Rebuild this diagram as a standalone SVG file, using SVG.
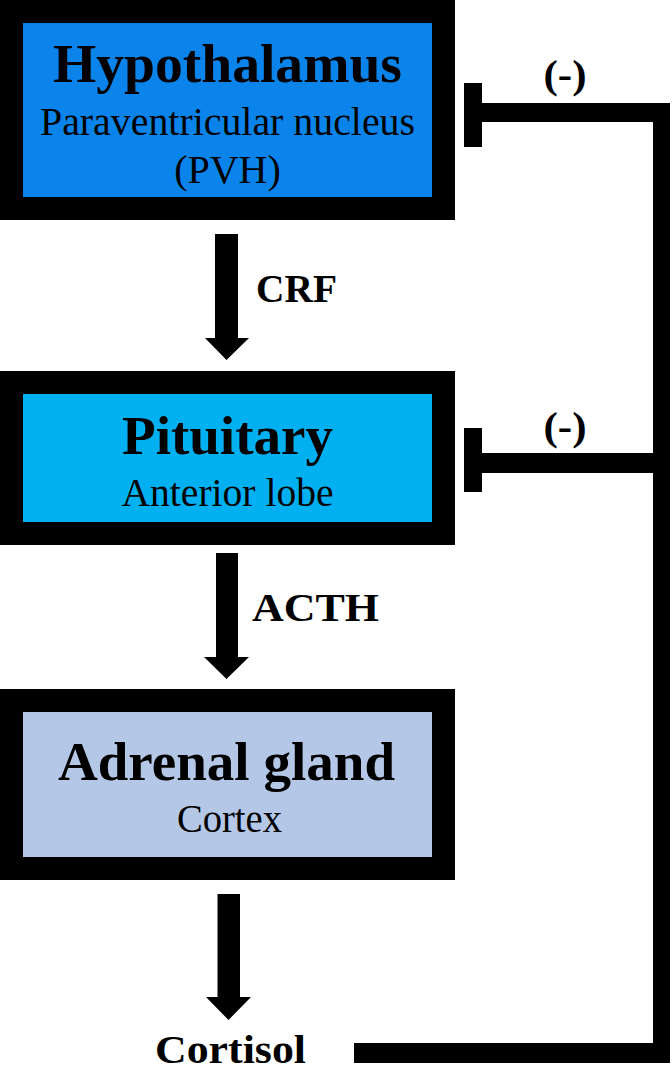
<svg xmlns="http://www.w3.org/2000/svg" width="672" height="1071" viewBox="0 0 672 1071">
<style>
.box{stroke:#000;stroke-width:23}
.h{font-family:"Liberation Serif","Times New Roman",serif;font-weight:bold;font-size:55px;text-anchor:middle;fill:#000}
.s{font-family:"Liberation Serif","Times New Roman",serif;font-size:40px;text-anchor:middle;fill:#000}
.l{font-family:"Liberation Serif","Times New Roman",serif;font-weight:bold;font-size:41px;fill:#000}
.c{fill:#000}
</style>
<rect width="672" height="1071" fill="#fff"/>
<g id="hypothalamus">
<rect class="box" x="11.5" y="11.5" width="432" height="197" fill="#0A84EA"/>
<text class="h" x="227.5" y="82" textLength="349" lengthAdjust="spacingAndGlyphs">Hypothalamus</text>
<text class="s" x="227.5" y="135" textLength="375" lengthAdjust="spacingAndGlyphs">Paraventricular nucleus</text>
<text class="s" x="227.5" y="183">(PVH)</text>
</g>
<g id="pituitary">
<rect class="box" x="11.5" y="382.5" width="432" height="151" fill="#00B0F0"/>
<text class="h" x="227.5" y="454" textLength="211" lengthAdjust="spacingAndGlyphs">Pituitary</text>
<text class="s" x="227.5" y="506" textLength="212" lengthAdjust="spacingAndGlyphs">Anterior lobe</text>
</g>
<g id="adrenal">
<rect class="box" x="11.5" y="700.5" width="432" height="168" fill="#B4C7E7"/>
<text class="h" x="226.5" y="780" textLength="337" lengthAdjust="spacingAndGlyphs">Adrenal gland</text>
<text class="s" x="229.5" y="832" textLength="105" lengthAdjust="spacingAndGlyphs">Cortex</text>
</g>
<g id="cortisol">
<text class="l" x="155" y="1063" font-size="42" textLength="151" lengthAdjust="spacingAndGlyphs">Cortisol</text>
</g>
<g id="connectors">
<polygon class="c" points="215,234 238,234 238,338 249,338 226.5,360 205,338 215,338"/>
<text class="l" x="256" y="302" textLength="81" lengthAdjust="spacingAndGlyphs">CRF</text>
<polygon class="c" points="216,553 238,553 238,657 249,657 226.5,679 204,657 216,657"/>
<text class="l" x="252" y="621" textLength="127" lengthAdjust="spacingAndGlyphs">ACTH</text>
<polygon class="c" points="217.5,894 240,894 240,997 251,997 228.5,1020 206,997 217.5,997"/>
<polygon class="c" points="354,1043 653,1043 653,122 482,122 482,147 464,147 464,83 482,83 482,103 670,103 670,1063 354,1063"/>
<rect class="c" x="464" y="428" width="18" height="64"/>
<rect class="c" x="482" y="453" width="171" height="20"/>
<text class="l" x="565" y="88" text-anchor="middle" textLength="43" lengthAdjust="spacingAndGlyphs">(-)</text>
<text class="l" x="565" y="440" text-anchor="middle" textLength="43" lengthAdjust="spacingAndGlyphs">(-)</text>
</g>
</svg>
